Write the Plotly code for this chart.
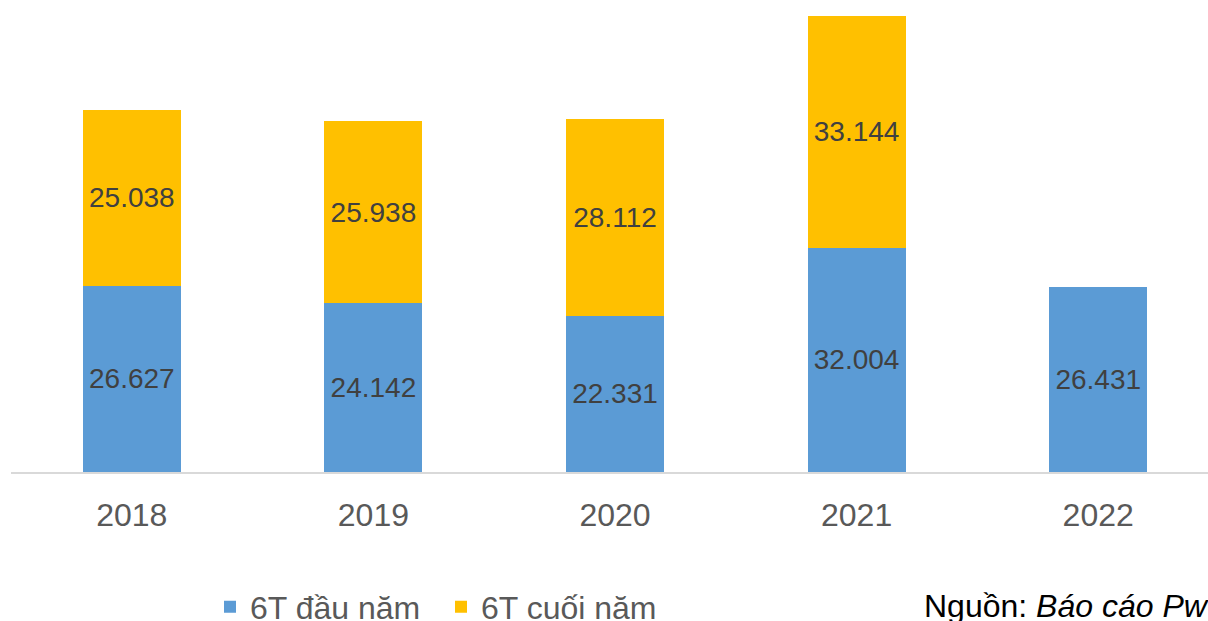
import plotly.graph_objects as go

years = ["2018", "2019", "2020", "2021", "2022"]
first_half = [26627, 24142, 22331, 32004, 26431]
second_half = [25038, 25938, 28112, 33144, None]
series_names = ["6T đầu năm", "6T cuối năm"]
source_label = "Nguồn: "
source_name = "Báo cáo PwC"

FONT = "Liberation Sans, Arial, sans-serif"

fig = go.Figure()
fig.add_trace(go.Bar(
    x=years, y=first_half, name=series_names[0],
    marker=dict(color="#5B9BD5", line=dict(width=0)),
    texttemplate="%{y:,.0f}", textposition="inside", insidetextanchor="middle",
    textfont=dict(family=FONT, size=28, color="#404040"),
    textangle=0,
))
fig.add_trace(go.Bar(
    x=years, y=second_half, name=series_names[1],
    marker=dict(color="#FFC000", line=dict(width=0)),
    texttemplate="%{y:,.0f}", textposition="inside", insidetextanchor="middle",
    textfont=dict(family=FONT, size=28, color="#404040"),
    textangle=0,
))

fig.add_annotation(
    text=source_label + "<i>" + source_name + "</i>",
    xref="paper", yref="paper", x=(922 - 11) / 1197, y=(472 - 606) / 472,
    xanchor="left", yanchor="middle", showarrow=False,
    font=dict(family=FONT, size=32, color="#000000"),
)

fig.update_layout(
    width=1208, height=621,
    margin=dict(l=11, r=0, t=0, b=149, autoexpand=False),
    paper_bgcolor="white", plot_bgcolor="white",
    barmode="stack", bargap=0.594,
    separators=",.",
    showlegend=True,
    legend=dict(
        orientation="h", x=(210 - 11) / 1197, xanchor="left",
        y=(472 - 607) / 472, yanchor="middle",
        font=dict(family=FONT, size=32, color="#595959"),
        traceorder="normal", itemsizing="constant",
        entrywidth=186, entrywidthmode="pixels",
    ),
    xaxis=dict(
        range=[-0.5, 4.4545], showgrid=False, showline=True,
        linecolor="#D9D9D9", linewidth=2, ticks="",
        tickfont=dict(family=FONT, size=32, color="#595959"),
        ticklabelstandoff=14, automargin=False,
    ),
    yaxis=dict(range=[0, 67400], visible=False, showgrid=False, zeroline=False),
)

fig.write_html(
    "out.html",
    config={"displayModeBar": False, "staticPlot": True},
    post_script=(
        "var h=document.documentElement,b=document.body;"
        "h.style.margin='0';h.style.padding='0';h.style.overflow='hidden';"
        "b.style.margin='0';b.style.padding='0';b.style.overflow='hidden';"
    ),
)
